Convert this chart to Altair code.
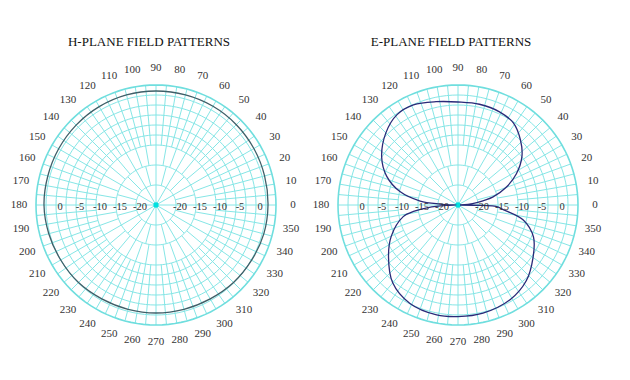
import altair as alt
import pandas as pd

# ---------------- data ----------------
# Polar radius scale: centre = -25 dB, outer ring = +5 dB
panels = ["H", "E"]
titles = ["H-PLANE FIELD PATTERNS", "E-PLANE FIELD PATTERNS"]

h_angles = [0, 15, 30, 45, 60, 75, 90, 105, 120, 135, 150, 165,
            180, 195, 210, 225, 240, 255, 270, 285, 300, 315, 330, 345]
h_db = [3.0, 3.1, 3.25, 3.4, 3.5, 3.5, 3.5, 3.5, 3.4, 3.25, 3.1, 3.0,
        3.0, 2.75, 2.5, 2.4, 2.1, 2.0, 2.0, 2.0, 2.1, 2.4, 2.6, 2.9]

e_angles = [0, 3, 7, 13, 20, 28, 37, 46, 56, 66, 78, 90, 102, 114, 124, 135,
            148, 158, 167, 174, 177, 179, 180, 182, 185, 188, 192, 205, 217,
            230, 244, 259, 270, 283, 299, 312, 325, 337, 347, 354, 358, 359,
            360]
e_db = [-24.5, -22.5, -20.25, -16, -12.25, -8.5, -5, -2.5, -0.25, 0.5, 0.75,
        0.75, 1.4, 2.4, 2.25, 0.5, -2.5, -5.75, -10.1, -15.5, -20.5, -23,
        -24.5, -22, -17.5, -14, -11, -6.6, -3.25, 0.4, 2.4, 3.0, 2.9, 2.75,
        2.0, 0.5, -2.1, -4.5, -8.25, -13.5, -15.5, -18.75, -24.5]

angle_labels = list(range(0, 360, 10))
db_ticks = [0, -5, -10, -15, -20]
ring_db = [-20, -15, -10, -7.5, -5, -2.5, 0, 2.5]
outer_db = [5]
# spoke groups: (angle step, inner dB, outer dB)
spoke_groups = [(5, -10, 5), (10, -15, -10), (15, -20, -15), (30, -25, -20)]

# ---------------- tables built from the arrays ----------------
h_df = pd.DataFrame({"panel": "H", "angle": h_angles, "db": h_db})
e_df = pd.DataFrame({"panel": "E", "angle": e_angles, "db": e_db})

ring_rows = [{"panel": p, "ring": r, "angle": t}
             for p in panels for r in ring_db for t in range(0, 361, 3)]
outer_rows = [{"panel": p, "ring": r, "angle": t}
              for p in panels for r in outer_db for t in range(0, 361, 3)]
spoke_rows = [{"panel": p, "angle": a, "db0": d0, "db1": d1}
              for p in panels for (step, d0, d1) in spoke_groups
              for a in range(0, 360, step)]
label_rows = [{"panel": p, "angle": a, "label": str(a)}
              for p in panels for a in angle_labels]
tick_rows = [{"panel": p, "side": s, "value": v, "label": str(v)}
             for p in panels for s in (0, 180) for v in db_ticks]
title_rows = [{"panel": p, "label": t} for p, t in zip(panels, titles)]
centre_rows = [{"panel": p} for p in panels]

# ---------------- geometry ----------------
W, H = 612, 362
PX = 4.0  # pixels per dB
CX = "(datum.panel === 'H' ? 37 : 112.5)"
xs = alt.Scale(domain=[0, W / PX], nice=False, zero=False)
ys = alt.Scale(domain=[-(H - 197) / PX, 197 / PX], nice=False, zero=False)


def X(f):
    return alt.X(f, type="quantitative", scale=xs, axis=None)


def Y(f):
    return alt.Y(f, type="quantitative", scale=ys, axis=None)


def polar(chart, dbfield="db", rname="r", xname="x", yname="y"):
    return chart.transform_calculate(
        **{rname: f"max(datum.{dbfield} + 25, 0)"}
    ).transform_calculate(
        **{xname: f"{CX} + datum.{rname} * cos(datum.angle * PI / 180)",
           yname: f"datum.{rname} * sin(datum.angle * PI / 180)"}
    )


GRID = "#86e6e6"
SERIF = "Liberation Serif"

rings = polar(alt.Chart(pd.DataFrame(ring_rows)), "ring").mark_line(
    color=GRID, strokeWidth=1).encode(
    x=X("x"), y=Y("y"), detail=alt.Detail(["panel:N", "ring:N"]),
    order="angle:Q")

outer = polar(alt.Chart(pd.DataFrame(outer_rows)), "ring").mark_line(
    color="#6fdede", strokeWidth=1.6).encode(
    x=X("x"), y=Y("y"), detail=alt.Detail(["panel:N", "ring:N"]),
    order="angle:Q")

spokes = polar(polar(alt.Chart(pd.DataFrame(spoke_rows)), "db0", "r0", "x0", "y0"),
               "db1", "r1", "x1", "y1").mark_rule(
    color=GRID, strokeWidth=1).encode(
    x=X("x0"), y=Y("y0"), x2="x1:Q", y2="y1:Q")

h_line = polar(alt.Chart(h_df)).mark_line(
    color="#3f5f68", strokeWidth=1.3, interpolate="cardinal-closed").encode(
    x=X("x"), y=Y("y"), order="angle:Q")

e_line = polar(alt.Chart(e_df)).mark_line(
    color="#2a2a78", strokeWidth=1.3, interpolate="catmull-rom").encode(
    x=X("x"), y=Y("y"), order="angle:Q")

centres = alt.Chart(pd.DataFrame(centre_rows)).transform_calculate(
    x=CX, y="0").mark_circle(color="#00e0e0", size=28, opacity=1).encode(
    x=X("x"), y=Y("y"))

angle_text = polar(alt.Chart(pd.DataFrame(label_rows)).transform_calculate(
    db="9.25")).mark_text(
    font=SERIF, fontSize=11, color="#333333", align="center",
    baseline="middle").encode(x=X("x"), y=Y("y"), text="label:N")

tick_text = alt.Chart(pd.DataFrame(tick_rows)).transform_calculate(
    r="datum.value + 25 + (datum.side === 0 ? 1 : -1)").transform_calculate(
    x=f"{CX} + datum.r * cos(datum.side * PI / 180)", y="-0.5").mark_text(
    font=SERIF, fontSize=10.5, color="#333333", align="center",
    baseline="middle").encode(x=X("x"), y=Y("y"), text="label:N")

title_text = alt.Chart(pd.DataFrame(title_rows)).transform_calculate(
    x=f"{CX} - 1.75", y="40.75").mark_text(
    font=SERIF, fontSize=13, color="#111111", align="center",
    baseline="middle").encode(x=X("x"), y=Y("y"), text="label:N")

chart = alt.layer(
    rings, spokes, outer, centres, h_line, e_line, angle_text, tick_text,
    title_text
).properties(
    width=W, height=H, padding=0, background="white",
    autosize=alt.AutoSizeParams(type="fit", contains="padding"),
).configure_view(stroke=None)

chart.save("out.html", embed_options={"renderer": "svg", "actions": False})
